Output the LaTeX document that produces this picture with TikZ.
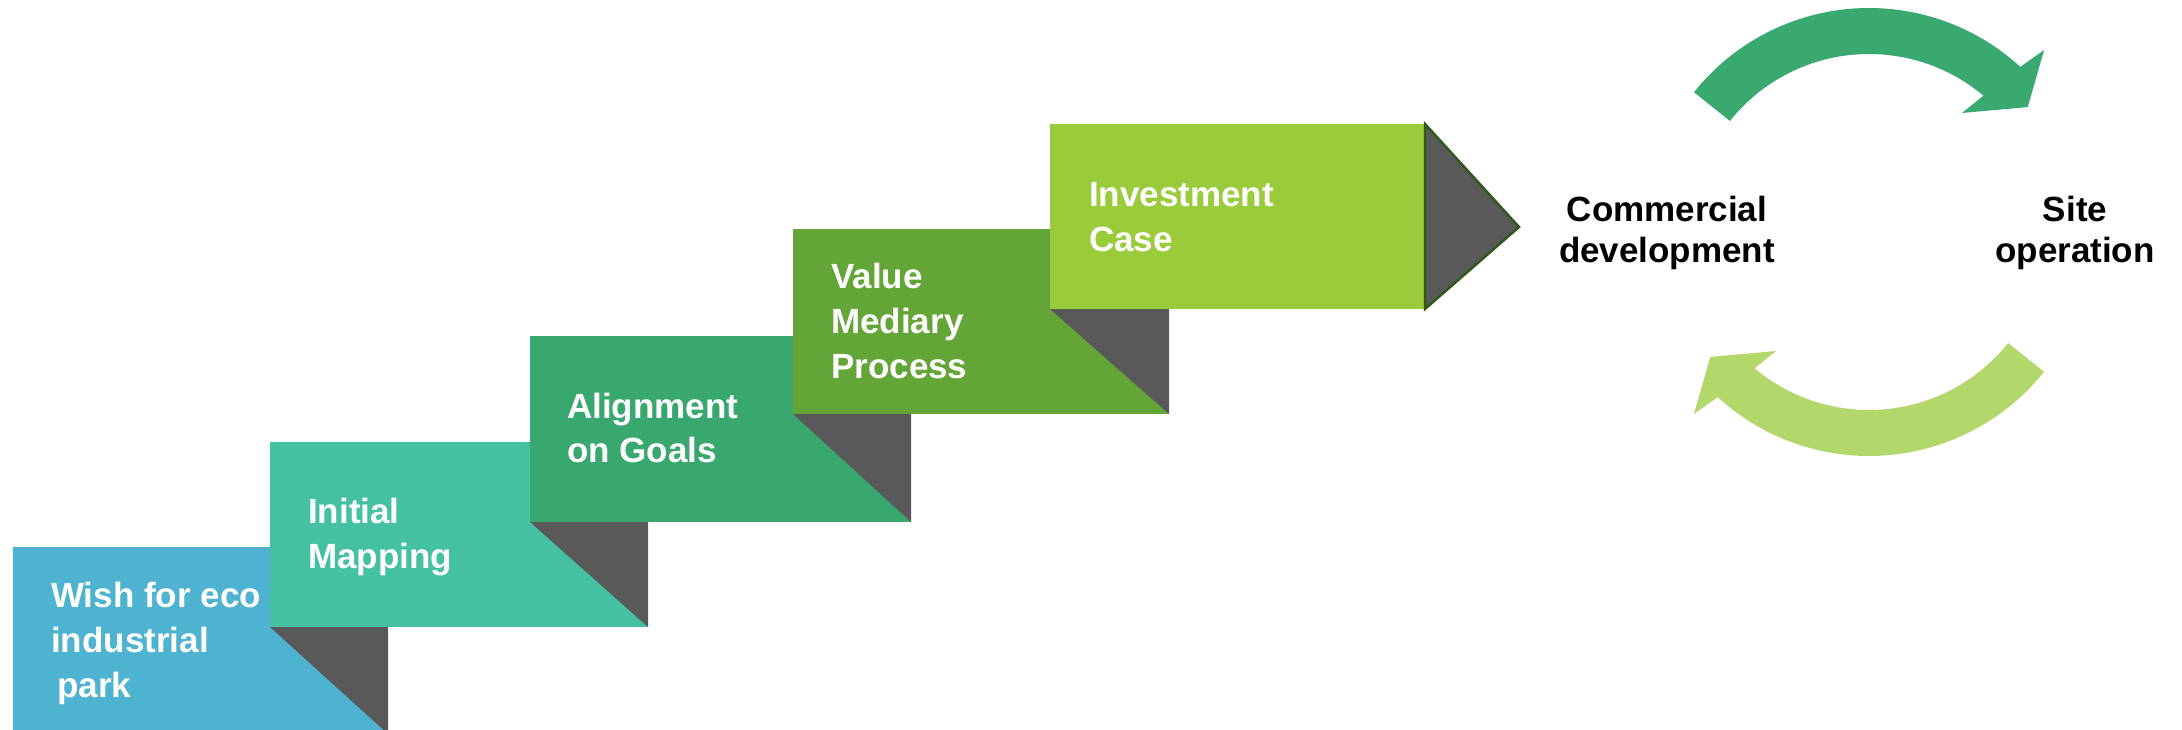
\documentclass[tikz,border=0pt]{standalone}
\usepackage{fontspec}
\setmainfont{Liberation Sans}
\definecolor{c1}{HTML}{4EB3D1}
\definecolor{c2}{HTML}{45C1A2}
\definecolor{c3}{HTML}{38A86F}
\definecolor{c4}{HTML}{64A537}
\definecolor{c5}{HTML}{9ACB3A}
\definecolor{fold}{HTML}{595959}
\definecolor{tipline}{HTML}{2E5A1C}
\definecolor{cyc1}{HTML}{3AA970}
\definecolor{cyc2}{HTML}{B2D86C}
\begin{document}
\begin{tikzpicture}[x=1pt,y=1pt,
  steplabel/.style={text=white,font=\bfseries\fontsize{35}{45}\selectfont,align=left,anchor=base west,inner sep=0pt},
  cyclabel/.style={text=black,font=\bfseries\fontsize{35}{41}\selectfont,align=center,anchor=base,inner sep=0pt},
  foldtri/.style={fill=fold},
  cycarrow/.style={draw=none}]
\useasboundingbox (0,0) rectangle (2182,729);
\begin{scope}
\clip (0,0) rectangle (2182,729);
% step boxes with folds
\fill[c1] (13,-5) rectangle (388,182);
\fill[foldtri] (270,102) -- (388,102) -- (388,-5) -- cycle;
\fill[c2] (270,102) rectangle (648,287);
\fill[foldtri] (530,207) -- (648,207) -- (648,102) -- cycle;
\fill[c3] (530,207) rectangle (911,393);
\fill[foldtri] (793,315) -- (911,315) -- (911,207) -- cycle;
\fill[c4] (793,315) rectangle (1169,500);
\fill[foldtri] (1050,420) -- (1169,420) -- (1169,315) -- cycle;
\fill[c5] (1050,420) rectangle (1425,605);
\filldraw[fill=fold, draw=tipline, line width=2.5, line join=miter] (1425,605) -- (1519,502) -- (1425,420) -- cycle;
\end{scope}
% labels (anchored at the baseline of the last line)
\node[steplabel] (t1) at (51,32) {Wish for eco\\industrial\\\hspace*{6pt}park};
\node[steplabel] (t2) at (308,161) {Initial\\Mapping};
\node[steplabel] (t3) at (567,266) {Alignment\\on Goals};
\node[steplabel] (t4) at (831,350) {Value\\Mediary\\Process};
\node[steplabel] (t5) at (1089,477) {Investment\\Case};
% cycle
\begin{scope}[shift={(1869,497)}]
\fill[cyc1] (141.4:224) arc[start angle=141.4, end angle=47.5, radius=224]
  -- (46.1:252.5) -- (38.2:202) -- (52:151) -- (50:178)
  arc[start angle=50, end angle=141.4, radius=178] -- cycle;
\end{scope}
\begin{scope}[shift={(1869,497)}, rotate=180]
\fill[cyc2] (141.4:224) arc[start angle=141.4, end angle=47.5, radius=224]
  -- (46.1:252.5) -- (38.2:202) -- (52:151) -- (50:178)
  arc[start angle=50, end angle=141.4, radius=178] -- cycle;
\end{scope}
\node[cyclabel] (cd) at (1667,466) {Commercial\\development};
\node[cyclabel] (so) at (2075,466) {Site\\operation};
\end{tikzpicture}
\end{document}
